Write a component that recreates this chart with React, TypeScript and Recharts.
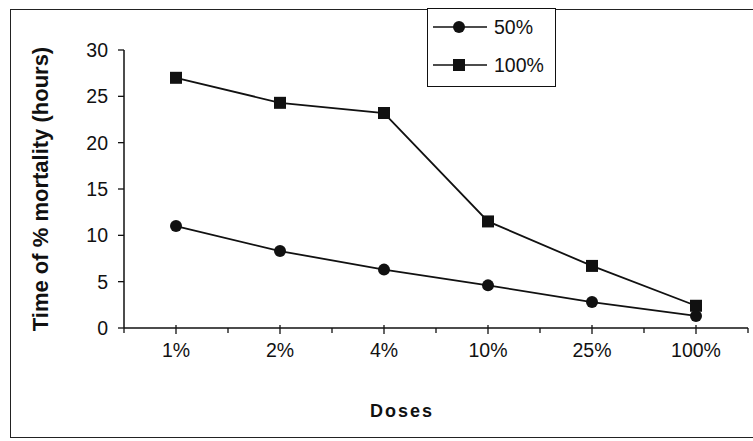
import { LineChart, Line, XAxis, YAxis, Legend } from "recharts";

const doses = ["1%", "2%", "4%", "10%", "25%", "100%"];
const mortality50 = [11, 8.3, 6.3, 4.6, 2.8, 1.3];
const mortality100 = [27, 24.3, 23.2, 11.5, 6.7, 2.4];
const yTicks = [0, 5, 10, 15, 20, 25, 30];

const data = doses.map((dose, i) => ({
  dose,
  m50: mortality50[i],
  m100: mortality100[i],
}));

const FONT = "'Liberation Sans', Arial, sans-serif";
const INK = "#111";
const TICK_SIZE = 6;
const TICK_MARGIN = 9;
const PLOT_WIDTH = 624;

function CircleDot(props: any) {
  const { cx, cy } = props;
  if (cx == null || cy == null) return null;
  return <circle cx={cx} cy={cy} r={6} fill={INK} stroke="none" />;
}

function SquareDot(props: any) {
  const { cx, cy } = props;
  if (cx == null || cy == null) return null;
  return <rect x={cx - 6} y={cy - 6} width={12} height={12} fill={INK} stroke="none" />;
}

function DoseTick(props: any) {
  const { x, y, payload, index, visibleTicksCount } = props;
  const half = payload.offset ? payload.offset : PLOT_WIDTH / doses.length / 2;
  const axisY = y - TICK_SIZE - TICK_MARGIN;
  return (
    <g>
      <line x1={x} x2={x} y1={axisY - 3} y2={axisY + TICK_SIZE} stroke={INK} strokeWidth={1.3} />
      <line x1={x - half} x2={x - half} y1={axisY} y2={axisY + 5} stroke={INK} strokeWidth={1.3} />
      {index === visibleTicksCount - 1 && (
        <line x1={x + half} x2={x + half} y1={axisY} y2={axisY + 5} stroke={INK} strokeWidth={1.3} />
      )}
      <text x={x} y={y} dy={14} textAnchor="middle" fill={INK} fontSize={19.5} fontFamily={FONT}>
        {payload.value}
      </text>
    </g>
  );
}

function LegendBox() {
  const rows = [
    { label: "50%", square: false },
    { label: "100%", square: true },
  ];
  return (
    <svg width={129} height={79} style={{ display: "block" }}>
      <rect x={0.5} y={0.5} width={128} height={78} fill="#fff" stroke={INK} strokeWidth={1} />
      {rows.map((r, i) => {
        const cy = 19 + i * 38;
        return (
          <g key={r.label}>
            <line x1={6} x2={60} y1={cy} y2={cy} stroke={INK} strokeWidth={1.6} />
            {r.square ? (
              <rect x={26} y={cy - 6} width={12} height={12} fill={INK} />
            ) : (
              <circle cx={32} cy={cy} r={6} fill={INK} />
            )}
            <text x={67} y={cy + 7} fontSize={19.5} fontFamily={FONT} fill={INK}>
              {r.label}
            </text>
          </g>
        );
      })}
    </svg>
  );
}

export default function App() {
  return (
    <div style={{ position: "absolute", left: 0, top: 0, width: 753, height: 441, background: "#fff", overflow: "hidden" }}>
      <div
        style={{
          position: "absolute",
          left: 10,
          top: 9,
          width: 760,
          height: 427,
          borderLeft: "1.5px solid #222",
          borderTop: "1.5px solid #222",
          borderBottom: "1.5px solid #222",
        }}
      />
      <LineChart
        width={753}
        height={441}
        data={data}
        margin={{ top: 50, right: 5, bottom: 0, left: 10 }}
        style={{ position: "absolute", left: 0, top: 0, fontFamily: FONT }}
      >
        <XAxis
          dataKey="dose"
          scale="band"
          height={113}
          axisLine={{ stroke: INK, strokeWidth: 1.5 }}
          tickLine={false}
          tickSize={TICK_SIZE}
          tickMargin={TICK_MARGIN}
          interval={0}
          tick={<DoseTick />}
          label={{
            value: "Doses",
            position: "insideBottom",
            offset: 24,
            dx: -34,
            style: { fontSize: 18, fontWeight: 700, fill: INK, fontFamily: FONT, letterSpacing: 2 },
          }}
        />
        <YAxis
          width={114}
          domain={[0, 30]}
          ticks={yTicks}
          interval={0}
          axisLine={{ stroke: INK, strokeWidth: 1.5 }}
          tickLine={{ stroke: INK, strokeWidth: 1.3 }}
          tickSize={TICK_SIZE}
          tickMargin={10}
          tick={{ fill: INK, fontSize: 19.5, fontFamily: FONT }}
          label={{
            value: "Time of % mortality (hours)",
            angle: -90,
            position: "insideLeft",
            offset: 30,
            style: { textAnchor: "middle", fontSize: 22, fontWeight: 700, fill: INK, fontFamily: FONT },
          }}
        />
        <Legend
          layout="vertical"
          align="center"
          verticalAlign="middle"
          content={<LegendBox />}
          wrapperStyle={{ left: 427, top: 8, width: 129, height: 79 }}
        />
        <Line
          dataKey="m50"
          name="50%"
          stroke={INK}
          strokeWidth={1.8}
          dot={<CircleDot />}
          activeDot={false}
          isAnimationActive={false}
        />
        <Line
          dataKey="m100"
          name="100%"
          stroke={INK}
          strokeWidth={1.8}
          dot={<SquareDot />}
          activeDot={false}
          isAnimationActive={false}
        />
      </LineChart>
    </div>
  );
}
